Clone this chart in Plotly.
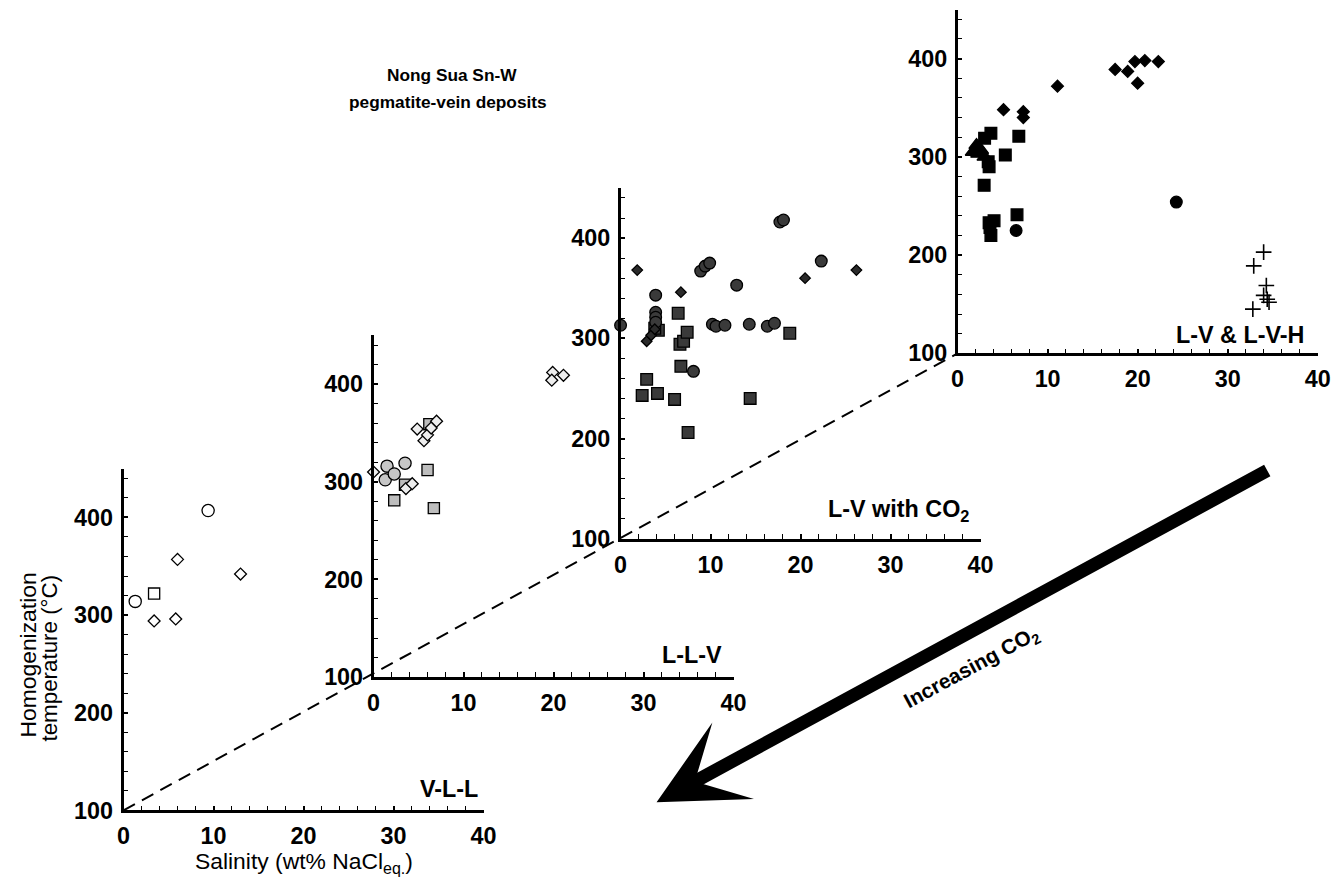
import plotly.graph_objects as go

W, H = 1343, 883
FONT = "Liberation Sans, Arial, Helvetica, sans-serif"

# ---------------- data ----------------
# Panel 1: V-L-L
vll_circle_x = [1.3, 9.4]
vll_circle_y = [314, 407]
vll_square_x = [3.4]
vll_square_y = [322]
vll_diamond_x = [3.4, 6.0, 5.8, 13.0]
vll_diamond_y = [294, 357, 296, 342]

# Panel 2: L-L-V
llv_circle_x = [1.5, 1.3, 2.3, 3.5]
llv_circle_y = [316, 302, 308, 319]
llv_square_x = [2.3, 3.5, 6.0, 6.7, 6.2]
llv_square_y = [281, 297, 312, 273, 359]
llv_diamond_x = [0.0, 3.6, 4.3, 4.85, 5.6, 6.0, 6.4, 7.0, 19.9, 21.1, 19.8]
llv_diamond_y = [310, 293, 298, 354, 342, 348, 355, 362, 412, 409, 404]

# Panel 3: L-V with CO2
lvc_circle_x = [0.0, 3.9, 3.9, 3.9, 3.9, 8.9, 9.4, 9.9, 12.9, 17.7, 18.1, 22.3,
                10.2, 10.6, 11.6, 14.3, 16.3, 17.1, 8.1]
lvc_circle_y = [313, 343, 326, 321, 316, 367, 372, 375, 353, 416, 418, 377,
                314, 312, 313, 314, 312, 315, 267]
lvc_square_x = [6.4, 4.2, 3.8, 6.6, 7.0, 7.4, 6.7, 2.9, 2.4, 4.1, 6.0, 7.5, 14.4, 18.8]
lvc_square_y = [325, 308, 310, 294, 297, 306, 272, 259, 243, 245, 239, 206, 240, 305]
lvc_diamond_x = [1.85, 6.7, 20.5, 26.2, 2.9, 3.4, 3.8]
lvc_diamond_y = [368, 346, 360, 368, 297, 303, 309]

# Panel 4: L-V & L-V-H
lvh_diamond_x = [5.1, 7.3, 7.3, 11.1, 17.5, 18.9, 19.7, 20.8, 22.3, 20.0]
lvh_diamond_y = [348, 346, 340, 372, 389, 387, 397, 398, 397, 375]
lvh_square_x = [3.7, 3.0, 6.8, 5.3, 3.5, 3.4, 2.95, 4.05, 3.5, 3.7, 3.6, 6.6]
lvh_square_y = [324, 319, 321, 302, 290, 295, 271, 235, 233, 220, 228, 241]
lvh_triangle_x = [1.7, 2.1, 2.6, 3.0, 2.3]
lvh_triangle_y = [305, 312, 307, 300, 303]
lvh_circle_x = [24.3, 6.5]
lvh_circle_y = [254, 225]
lvh_cross_x = [34.0, 32.9, 34.3, 34.0, 34.6, 32.8, 34.4]
lvh_cross_y = [203, 189, 169, 159, 152, 145, 155]

x_ticks = [0, 10, 20, 30, 40]
y_ticks = [100, 200, 300, 400]
panel_labels = ["V-L-L", "L-L-V", "L-V with CO<sub>2</sub>", "L-V & L-V-H"]

# ---------------- layout geometry (target picture pixels) ----------------
# (left, right, bottom, top)
panels_px = [
    (122, 482, 810, 469),
    (372, 732, 677, 336),
    (619, 979, 539, 189),
    (956, 1316, 354, 11),
]
label_px = [(447, 789), (690, 655), (897, 511), (1238, 336)]

# the photographed page shows the figure slightly shrunk and shifted;
# compensate so that the picture lands on the target pixels
SX, AX = 0.985, 5.5
SY, AY = 0.983, 1.5
FS = 1 / 0.984


def px(X, Y):
    return ((X - AX) / SX) / W, 1 - ((Y - AY) / SY) / H


fig = go.Figure()


def add(n, xs, ys, symbol, size, fill, lw=1.3):
    sfx = "" if n == 1 else str(n)
    fig.add_trace(go.Scatter(
        x=xs, y=ys, mode="markers", xaxis="x" + sfx, yaxis="y" + sfx,
        cliponaxis=False,
        marker=dict(symbol=symbol, size=size * FS, color=fill,
                    line=dict(color="black", width=lw)),
        showlegend=False, hoverinfo="x+y"))


# Panel 1
add(1, vll_circle_x, vll_circle_y, "circle", 12, "white")
add(1, vll_square_x, vll_square_y, "square", 11, "white")
add(1, vll_diamond_x, vll_diamond_y, "diamond", 9, "white")
# Panel 2
add(2, llv_square_x, llv_square_y, "square", 11, "#bdbdbd")
add(2, llv_circle_x, llv_circle_y, "circle", 12, "#c6c6c6")
add(2, llv_diamond_x, llv_diamond_y, "diamond", 9, "#eeeeee")
# Panel 3
add(3, lvc_square_x, lvc_square_y, "square", 11.5, "#3a3a3a")
add(3, lvc_circle_x, lvc_circle_y, "circle", 11.5, "#3a3a3a")
add(3, lvc_diamond_x, lvc_diamond_y, "diamond", 8, "#2a2a2a")
# Panel 4
add(4, lvh_square_x, lvh_square_y, "square", 11.5, "black")
add(4, lvh_triangle_x, lvh_triangle_y, "triangle-up", 13, "black")
add(4, lvh_diamond_x, lvh_diamond_y, "diamond", 9, "black")
add(4, lvh_circle_x, lvh_circle_y, "circle", 11.5, "black")
add(4, lvh_cross_x, lvh_cross_y, "cross-thin", 11, "black", lw=1.6)

tickfont = dict(family=FONT, size=23 * FS, color="black", weight="bold")
layout = dict(
    width=W, height=H, margin=dict(l=0, r=0, t=0, b=0),
    paper_bgcolor="white", plot_bgcolor="rgba(0,0,0,0)",
    showlegend=False,
)
for i, (l, r, b, t) in enumerate(panels_px):
    n = i + 1
    sfx = "" if n == 1 else str(n)
    xl, yb = px(l, b)
    xr, yt = px(r, t)
    layout["xaxis" + sfx] = dict(
        domain=[xl, xr], range=[0, 40], anchor="y" + sfx,
        showline=True, linecolor="black", linewidth=2.5,
        ticks="inside", ticklen=5, tickwidth=1.5, tickcolor="black",
        tickvals=x_ticks, tickfont=tickfont, ticklabelstandoff=3,
        minor=dict(dtick=2, tick0=0, ticks="inside", ticklen=5, tickwidth=1.2,
                   tickcolor="black", showgrid=False),
        showgrid=False, zeroline=False, fixedrange=True)
    layout["yaxis" + sfx] = dict(
        domain=[yb, yt], range=[100, 450], anchor="x" + sfx,
        showline=True, linecolor="black", linewidth=2.5,
        ticks="inside", ticklen=5, tickwidth=1.5, tickcolor="black",
        tickvals=y_ticks, tickfont=tickfont, ticklabelstandoff=3,
        minor=dict(dtick=20, tick0=100, ticks="inside", ticklen=5, tickwidth=1.2,
                   tickcolor="black", showgrid=False),
        showgrid=False, zeroline=False, fixedrange=True)
fig.update_layout(**layout)

# dashed line through the panel origins
(l0, _, b0, _), (l3, _, b3, _) = panels_px[0], panels_px[-1]
x0, y0 = px(l0, b0)
x1, y1 = px(l3, b3)
fig.add_shape(type="line", xref="paper", yref="paper", x0=x0, y0=y0, x1=x1, y1=y1,
              line=dict(color="black", width=2, dash="13px,8px"), layer="above")


def text(X, Y, s, size, bold=True, angle=0):
    ax_, ay_ = px(X, Y)
    fig.add_annotation(x=ax_, y=ay_, xref="paper", yref="paper", text=s,
                       showarrow=False, xanchor="center", yanchor="middle",
                       textangle=angle,
                       font=dict(family=FONT, size=size * FS, color="black",
                                 weight="bold" if bold else "normal"))


# panel labels
for (lx, ly), txt in zip(label_px, panel_labels):
    text(lx, ly, txt, 23)

# title
text(450, 76, "Nong Sua Sn-W", 17)
text(446, 103, "pegmatite-vein deposits", 17)

# axis titles
text(27, 655, "Homogenization", 22.5, bold=False, angle=-90)
text(48, 658, "temperature (°C)", 22, bold=False, angle=-90)
text(302, 862, "Salinity (wt% NaCl<sub>eq.</sub>)", 22.5, bold=False)

# big arrow
tx, ty = px(655, 802)
fig.add_annotation(x=tx, y=ty, xref="paper", yref="paper",
                   ax=603 / SX, ay=-327 / SY, axref="pixel", ayref="pixel",
                   text="", showarrow=True, arrowhead=3, arrowsize=1.1,
                   arrowwidth=13 * FS, arrowcolor="black", standoff=0)
text(970, 668, "Increasing CO<sub>2</sub>", 20.5, angle=-28.4)

fig.write_html("out.html")
